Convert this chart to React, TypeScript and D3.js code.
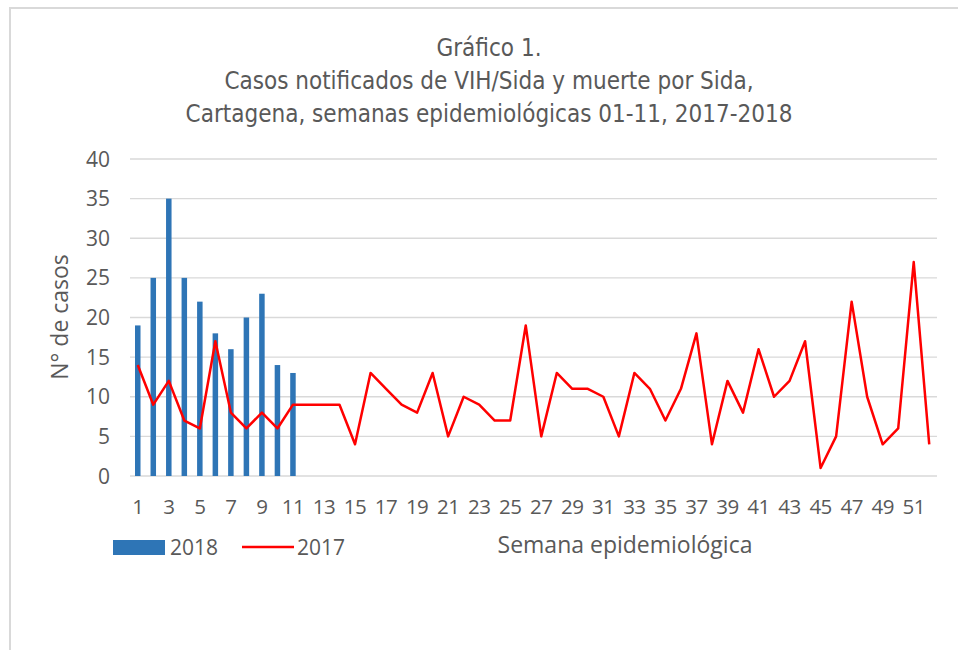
import React, { useEffect, useRef } from 'react';
import * as d3 from 'd3';

// semanas epidemiologicas 1..52
const weeks = d3.range(1, 53);
const cases2018 = [19, 25, 35, 25, 22, 18, 16, 20, 23, 14, 13];
const cases2017 = [
  14, 9, 12, 7, 6, 17, 8, 6, 8, 6, 9, 9, 9, 9, 4, 13, 11, 9, 8, 13,
  5, 10, 9, 7, 7, 19, 5, 13, 11, 11, 10, 5, 13, 11, 7, 11, 18, 4, 12, 8,
  16, 10, 12, 17, 1, 5, 22, 10, 4, 6, 27, 4,
];
const yTicks = [0, 5, 10, 15, 20, 25, 30, 35, 40];
const titleLines = [
  'Gráfico 1.',
  'Casos notificados de VIH/Sida y muerte por Sida,',
  'Cartagena, semanas epidemiológicas 01-11, 2017-2018',
];

const W = 958;
const H = 650;
const margin = { left: 130, right: 21, top: 159, bottom: 174 };
const textColor = '#595959';
const font = '"Open Sans", sans-serif';

export default function App() {
  const ref = useRef<SVGSVGElement>(null);

  useEffect(() => {
    const svg = d3.select(ref.current);
    svg.selectAll('*').remove();

    svg.append('rect').attr('width', W).attr('height', H).attr('fill', '#fff');
    // marco gris
    svg.append('path')
      .attr('d', `M10,${H} L10,8 L${W},8`)
      .attr('fill', 'none')
      .attr('stroke', '#d9d9d9')
      .attr('stroke-width', 2);

    const x = d3.scaleBand<number>()
      .domain(weeks)
      .range([margin.left, W - margin.right]);
    const y = d3.scaleLinear().domain([0, 40]).range([H - margin.bottom, margin.top]);

    // titulo
    const title = svg.append('text')
      .attr('text-anchor', 'middle')
      .attr('fill', textColor)
      .style('font-family', '"DejaVu Sans Condensed", sans-serif')
      .style('font-size', '24px');
    titleLines.forEach((t, i) => {
      title.append('tspan').attr('x', 489).attr('y', 56 + i * 33).text(t);
    });

    // rejilla
    svg.append('g')
      .selectAll('line')
      .data(yTicks)
      .join('line')
      .attr('x1', margin.left)
      .attr('x2', W - margin.right)
      .attr('y1', (d) => y(d))
      .attr('y2', (d) => y(d))
      .attr('stroke', '#d9d9d9')
      .attr('stroke-width', 1.3);

    // eje y
    svg.append('g')
      .selectAll('text')
      .data(yTicks)
      .join('text')
      .attr('x', 110)
      .attr('y', (d) => y(d) + 7.5)
      .attr('text-anchor', 'end')
      .attr('fill', textColor)
      .style('font-family', font)
      .style('font-size', '21px')
      .text((d) => d);

    svg.append('text')
      .attr('transform', `translate(68,317) rotate(-90)`)
      .attr('text-anchor', 'middle')
      .attr('fill', textColor)
      .style('font-family', font)
      .style('font-size', '23px')
      .text('N° de casos');

    // eje x
    svg.append('g')
      .selectAll('text')
      .data(weeks.filter((d) => d % 2 === 1))
      .join('text')
      .attr('x', (d) => (x(d) as number) + x.bandwidth() / 2)
      .attr('y', 514)
      .attr('text-anchor', 'middle')
      .attr('fill', textColor)
      .style('font-family', font)
      .style('font-size', '20.5px')
      .style('letter-spacing', '-0.5px')
      .text((d) => d);

    // barras 2018
    const bw = 5.5;
    svg.append('g')
      .selectAll('rect')
      .data(cases2018)
      .join('rect')
      .attr('x', (d, i) => (x(weeks[i]) as number) + x.bandwidth() / 2 - bw / 2)
      .attr('y', (d) => y(d))
      .attr('width', bw)
      .attr('height', (d) => y(0) - y(d))
      .attr('fill', '#2E75B6');

    // linea 2017
    const line = d3.line<number>()
      .x((d, i) => (x(weeks[i]) as number) + x.bandwidth() / 2)
      .y((d) => y(d));
    svg.append('path')
      .datum(cases2017)
      .attr('d', line)
      .attr('fill', 'none')
      .attr('stroke', '#FF0000')
      .attr('stroke-width', 2.5)
      .attr('stroke-linejoin', 'round');

    // leyenda
    const lg = svg.append('g')
      .attr('fill', textColor)
      .style('font-family', font)
      .style('font-size', '21px');
    lg.append('rect').attr('x', 113).attr('y', 540).attr('width', 52).attr('height', 15).attr('fill', '#2E75B6');
    lg.append('text').attr('x', 170).attr('y', 555).text('2018');
    lg.append('line')
      .attr('x1', 242).attr('x2', 294).attr('y1', 547).attr('y2', 547)
      .attr('stroke', '#FF0000').attr('stroke-width', 2.5);
    lg.append('text').attr('x', 297).attr('y', 555).text('2017');

    svg.append('text')
      .attr('x', 625)
      .attr('y', 553)
      .attr('text-anchor', 'middle')
      .attr('fill', textColor)
      .style('font-family', font)
      .style('font-size', '23px')
      .text('Semana epidemiológica');
  }, []);

  return (
    <svg ref={ref} width={W} height={H} style={{ position: 'absolute', left: 0, top: 0 }} />
  );
}
